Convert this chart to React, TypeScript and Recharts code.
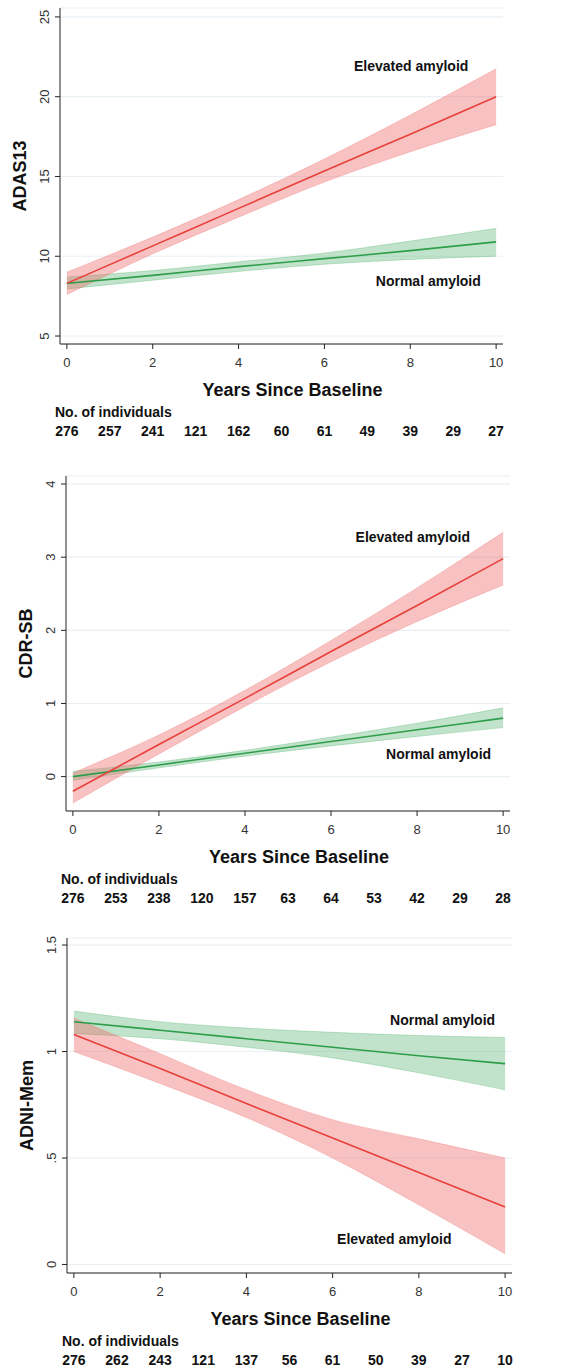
import React from 'react';
import { ComposedChart, Area, Line, XAxis, YAxis, CartesianGrid, ReferenceDot, Label } from 'recharts';

const YEARS = [0, 2, 4, 6, 8, 10];
const COUNT_YEARS = [0, 1, 2, 3, 4, 5, 6, 7, 8, 9, 10];

// ADAS13
const ADAS_ELEV = [8.3, 10.65, 13.0, 15.35, 17.65, 20.0];
const ADAS_ELEV_LO = [7.6, 10.15, 12.45, 14.65, 16.55, 18.25];
const ADAS_ELEV_HI = [9.0, 11.2, 13.55, 16.1, 18.85, 21.75];
const ADAS_NORM = [8.3, 8.8, 9.35, 9.85, 10.35, 10.9];
const ADAS_NORM_LO = [7.95, 8.5, 9.05, 9.5, 9.8, 10.0];
const ADAS_NORM_HI = [8.7, 9.1, 9.65, 10.2, 10.95, 11.75];
const ADAS_N = [276, 257, 241, 121, 162, 60, 61, 49, 39, 29, 27];

// CDR-SB
const CDR_ELEV = [-0.2, 0.44, 1.07, 1.71, 2.34, 2.98];
const CDR_ELEV_LO = [-0.36, 0.31, 0.96, 1.57, 2.12, 2.62];
const CDR_ELEV_HI = [0.05, 0.57, 1.18, 1.86, 2.58, 3.34];
const CDR_NORM = [0.0, 0.16, 0.32, 0.48, 0.64, 0.8];
const CDR_NORM_LO = [-0.05, 0.12, 0.28, 0.42, 0.55, 0.67];
const CDR_NORM_HI = [0.07, 0.2, 0.36, 0.54, 0.73, 0.94];
const CDR_N = [276, 253, 238, 120, 157, 63, 64, 53, 42, 29, 28];

// ADNI-Mem
const MEM_ELEV = [1.08, 0.92, 0.756, 0.594, 0.432, 0.27];
const MEM_ELEV_LO = [1.0, 0.85, 0.69, 0.5, 0.28, 0.05];
const MEM_ELEV_HI = [1.156, 0.99, 0.82, 0.68, 0.59, 0.5];
const MEM_NORM = [1.14, 1.1, 1.06, 1.02, 0.98, 0.943];
const MEM_NORM_LO = [1.085, 1.06, 1.02, 0.97, 0.9, 0.82];
const MEM_NORM_HI = [1.19, 1.14, 1.11, 1.09, 1.075, 1.066];
const MEM_N = [276, 262, 243, 121, 137, 56, 61, 50, 39, 27, 10];

const FONT = '"Liberation Sans", Arial, sans-serif';
const RED = '#e8403a';
const GREEN = '#2e9e4a';

const build = (e: number[], eLo: number[], eHi: number[], n: number[], nLo: number[], nHi: number[]) =>
  YEARS.map((year, i) => ({
    year,
    elev: e[i],
    elevBand: [eLo[i], eHi[i]],
    norm: n[i],
    normBand: [nLo[i], nHi[i]],
  }));

interface Note {
  text: string;
  x: number;
  y: number;
}

interface PanelProps {
  top: number;
  height: number;
  margin: { top: number; left: number; right: number; bottom: number };
  data: any[];
  yDomain: [number, number];
  yTicks: number[];
  yFormat: (v: number) => string;
  yLabel: string;
  counts: number[];
  notes: Note[];
}

const YTick = (props: any) => {
  const { x, y, payload, fmt } = props;
  return (
    <text x={x - 4} y={y} transform={`rotate(-90, ${x - 4}, ${y})`} textAnchor="middle" fontFamily={FONT} fontSize={13} fill="#333">
      {fmt(payload.value)}
    </text>
  );
};

const XTick = (props: any) => {
  const { x, y, payload } = props;
  return (
    <text x={x} y={y + 16} textAnchor="middle" fontFamily={FONT} fontSize={13} fill="#333">
      {payload.value}
    </text>
  );
};

const CountTick = (props: any) => {
  const { x, y, payload, counts } = props;
  return (
    <text x={x} y={y + 38} textAnchor="middle" fontFamily={FONT} fontSize={14} fontWeight="bold" fill="#111">
      {counts[payload.value]}
    </text>
  );
};

const Panel = ({ top, height, margin, data, yDomain, yTicks, yFormat, yLabel, counts, notes }: PanelProps) => (
  <div style={{ position: 'absolute', left: 0, top, width: 565, height }}>
    <ComposedChart width={565} height={height} data={data} margin={margin}>
      <CartesianGrid vertical={false} stroke="#e8f0f4" strokeWidth={1.2} />
      <XAxis
        dataKey="year"
        type="number"
        domain={[-0.16, 10.16]}
        ticks={[0, 2, 4, 6, 8, 10]}
        height={46}
        stroke="#222"
        tickSize={5}
        tick={<XTick />}
      >
        <Label
          content={(p: any) => (
            <text x={p.viewBox.x + p.viewBox.width / 2 + 11} y={p.viewBox.y + 52} textAnchor="middle" fontFamily={FONT} fontSize={18} fontWeight="bold" fill="#111">
              Years Since Baseline
            </text>
          )}
        />
      </XAxis>
      <XAxis
        xAxisId="n"
        dataKey="year"
        type="number"
        domain={[-0.16, 10.16]}
        ticks={COUNT_YEARS}
        height={44}
        axisLine={false}
        tickLine={false}
        tick={<CountTick counts={counts} />}
      >
        <Label
          content={(p: any) => (
            <text x={p.viewBox.x - 5} y={p.viewBox.y + 27} textAnchor="start" fontFamily={FONT} fontSize={14} fontWeight="bold" fill="#111">
              No. of individuals
            </text>
          )}
        />
      </XAxis>
      <YAxis
        type="number"
        domain={yDomain}
        ticks={yTicks}
        width={40}
        stroke="#222"
        tickSize={5}
        tick={<YTick fmt={yFormat} />}
      >
        <Label
          content={(p: any) => {
            const cx = p.viewBox.x + 6;
            const cy = p.viewBox.y + p.viewBox.height / 2;
            return (
              <text x={cx} y={cy} transform={`rotate(-90, ${cx}, ${cy})`} textAnchor="middle" fontFamily={FONT} fontSize={18} fontWeight="bold" fill="#111">
                {yLabel}
              </text>
            );
          }}
        />
      </YAxis>
      <Area type="monotone" dataKey="normBand" fill="#4caf6a" fillOpacity={0.35} stroke="#4caf6a" strokeOpacity={0.3} isAnimationActive={false} />
      <Area type="monotone" dataKey="elevBand" fill="#ee6666" fillOpacity={0.4} stroke="#ee6666" strokeOpacity={0.3} isAnimationActive={false} />
      <Line type="monotone" dataKey="norm" stroke={GREEN} strokeWidth={1.6} dot={false} isAnimationActive={false} />
      <Line type="monotone" dataKey="elev" stroke={RED} strokeWidth={1.6} dot={false} isAnimationActive={false} />
      {notes.map((n) => (
        <ReferenceDot
          key={n.text}
          x={n.x}
          y={n.y}
          r={0}
          stroke="none"
          label={(p: any) => (
            <text x={p.viewBox.x} y={p.viewBox.y + 5} textAnchor="middle" fontFamily={FONT} fontSize={14} fontWeight="bold" fill="#111">
              {n.text}
            </text>
          )}
        />
      ))}
    </ComposedChart>
  </div>
);

export default function App() {
  return (
    <div style={{ position: 'absolute', left: 0, top: 0, width: 565, height: 1368, background: '#fff' }}>
      <Panel
        top={0}
        height={450}
        margin={{ top: 8, left: 20, right: 62, bottom: 450 - 344 - 90 }}
        data={build(ADAS_ELEV, ADAS_ELEV_LO, ADAS_ELEV_HI, ADAS_NORM, ADAS_NORM_LO, ADAS_NORM_HI)}
        yDomain={[4.5, 25.56]}
        yTicks={[5, 10, 15, 20, 25]}
        yFormat={(v) => String(v)}
        yLabel="ADAS13"
        counts={ADAS_N}
        notes={[
          { text: 'Elevated amyloid', x: 8.02, y: 21.94 },
          { text: 'Normal amyloid', x: 8.42, y: 8.44 },
        ]}
      />
      <Panel
        top={460}
        height={450}
        margin={{ top: 16, left: 26, right: 55, bottom: 450 - 351 - 90 }}
        data={build(CDR_ELEV, CDR_ELEV_LO, CDR_ELEV_HI, CDR_NORM, CDR_NORM_LO, CDR_NORM_HI)}
        yDomain={[-0.47, 4.11]}
        yTicks={[0, 1, 2, 3, 4]}
        yFormat={(v) => String(v)}
        yLabel="CDR-SB"
        counts={CDR_N}
        notes={[
          { text: 'Elevated amyloid', x: 7.9, y: 3.27 },
          { text: 'Normal amyloid', x: 8.5, y: 0.31 },
        ]}
      />
      <Panel
        top={920}
        height={448}
        margin={{ top: 18, left: 27, right: 53, bottom: 448 - 353 - 90 }}
        data={build(MEM_ELEV, MEM_ELEV_LO, MEM_ELEV_HI, MEM_NORM, MEM_NORM_LO, MEM_NORM_HI)}
        yDomain={[-0.04, 1.533]}
        yTicks={[0, 0.5, 1, 1.5]}
        yFormat={(v) => (v === 0.5 ? '.5' : String(v))}
        yLabel="ADNI-Mem"
        counts={MEM_N}
        notes={[
          { text: 'Normal amyloid', x: 8.55, y: 1.146 },
          { text: 'Elevated amyloid', x: 7.43, y: 0.118 },
        ]}
      />
    </div>
  );
}
